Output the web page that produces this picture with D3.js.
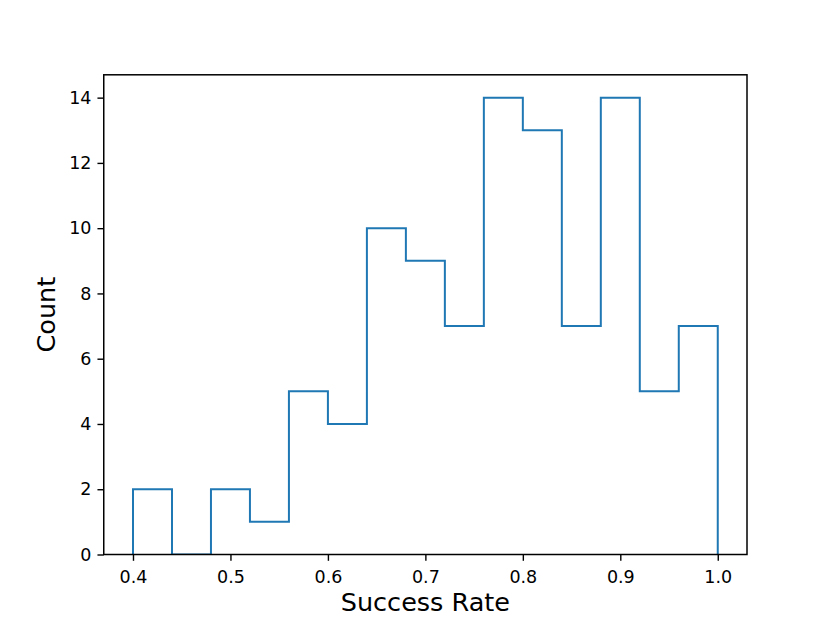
<!DOCTYPE html>
<html><head><meta charset="utf-8">
<script src="https://cdn.jsdelivr.net/npm/d3@7"></script>
<style>body{margin:0;background:#fff}svg text{font-family:"DejaVu Sans",sans-serif;fill:#000}</style>
</head><body>
<svg id="c" width="830" height="623"></svg>
<script>
const binEdges = [0.40,0.44,0.48,0.52,0.56,0.60,0.64,0.68,0.72,0.76,0.80,0.84,0.88,0.92,0.96,1.00];
const counts = [2,0,2,1,5,4,10,9,7,14,13,7,14,5,7];
const xTicks = [0.4,0.5,0.6,0.7,0.8,0.9,1.0];
const yTicks = [0,2,4,6,8,10,12,14];
const xLabel = "Success Rate";
const yLabel = "Count";

const W=830,H=623;
const m={l:103.75,r:747,t:74.8,b:554.5};
const svg=d3.select("#c");
const x=d3.scaleLinear().domain([0.37,1.03]).range([m.l,m.r]);
const y=d3.scaleLinear().domain([0,14.7]).range([m.b,m.t]);

svg.append("clipPath").attr("id","clip").append("rect")
 .attr("x",m.l).attr("y",m.t).attr("width",m.r-m.l).attr("height",m.b-m.t);

// step path
const pts=[[binEdges[0],0]];
counts.forEach((c,i)=>{pts.push([binEdges[i],c]);pts.push([binEdges[i+1],c]);});
pts.push([binEdges[binEdges.length-1],0]);
const line=d3.line().x(d=>x(d[0])).y(d=>y(d[1]));
svg.append("path").attr("d",line(pts)).attr("clip-path","url(#clip)").attr("fill","none").attr("stroke","#1f77b4").attr("stroke-width",2).attr("stroke-linejoin","miter");

// axes
const xa=svg.append("g").attr("transform",`translate(0,${m.b})`)
 .call(d3.axisBottom(x).tickValues(xTicks).tickFormat(d3.format(".1f")).tickSize(6.3).tickPadding(6));
const ya=svg.append("g").attr("transform",`translate(${m.l},0)`)
 .call(d3.axisLeft(y).tickValues(yTicks).tickFormat(d3.format("d")).tickSize(6.3).tickPadding(6));
[xa,ya].forEach(g=>{g.select(".domain").remove();g.selectAll("line").attr("stroke","#000").attr("stroke-width",1.4);
 g.selectAll("text").attr("font-size","17.5px").attr("font-family","DejaVu Sans");});
xa.selectAll("text").attr("dy","0.95em");
// frame
svg.append("rect").attr("x",m.l).attr("y",m.t).attr("width",m.r-m.l).attr("height",m.b-m.t)
 .attr("fill","none").attr("stroke","#000").attr("stroke-width",1.5);

svg.append("text").attr("x",(m.l+m.r)/2).attr("y",611).attr("text-anchor","middle").attr("font-size","25.5px").text(xLabel);
svg.append("text").attr("transform",`translate(55,${(m.t+m.b)/2}) rotate(-90)`).attr("text-anchor","middle").attr("font-size","25.5px").text(yLabel);
</script>
</body></html>
